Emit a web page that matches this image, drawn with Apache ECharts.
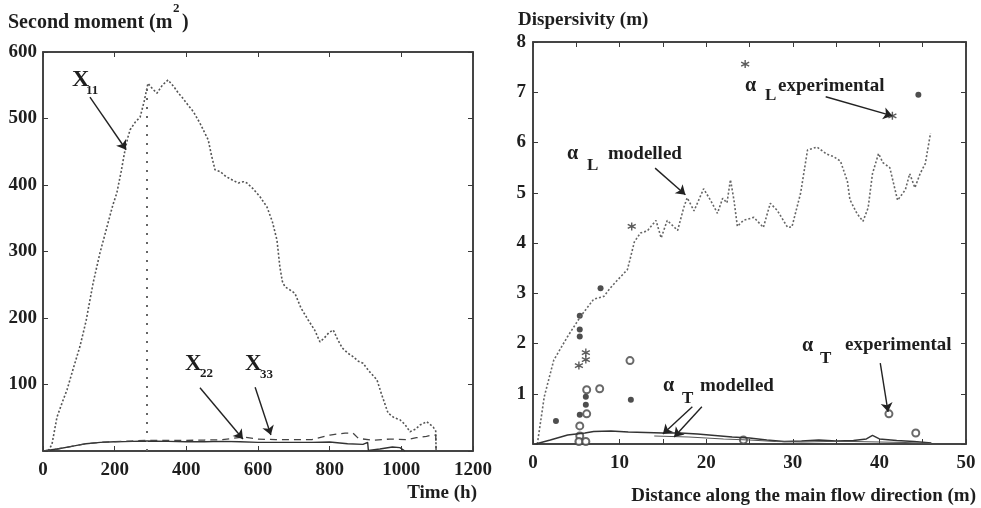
<!DOCTYPE html>
<html>
<head>
<meta charset="utf-8">
<script src="https://cdn.jsdelivr.net/npm/echarts@6/dist/echarts.min.js"></script>
<style>
  html, body { margin: 0; padding: 0; background: #fff; }
  #chart { width: 981px; height: 508px; }
</style>
</head>
<body>
<div id="chart"></div>
<script>
// left panel: second moments vs time
const x11Time = [15, 25, 39, 55, 67, 85, 103, 120, 140, 159, 180, 195, 206, 218, 229, 236, 243, 258, 271, 282, 293, 305, 318, 333, 349, 365, 378, 388, 405, 420, 438, 450, 461, 470, 480, 495, 510, 530, 545, 560, 569, 585, 606, 625, 640, 653, 661, 668, 675, 690, 703, 720, 740, 758, 773, 785, 798, 810, 822, 835, 851, 865, 880, 893, 910, 932, 945, 963, 980, 996, 1010, 1024, 1040, 1052, 1071, 1089, 1096, 1097]
const x11Val  = [0, 10, 51, 75, 92, 125, 157, 195, 253, 298, 340, 370, 388, 420, 453, 470, 483, 495, 502, 525, 553, 545, 538, 550, 558, 548, 538, 532, 520, 510, 493, 480, 468, 445, 423, 420, 413, 407, 403, 405, 403, 395, 382, 367, 345, 317, 277, 255, 247, 242, 237, 215, 197, 182, 164, 170, 178, 182, 168, 155, 147, 142, 135, 132, 120, 107, 85, 57, 50, 47, 40, 29, 33, 39, 44, 36, 30, 0]

const x22Time = [0, 40, 80, 120, 160, 200, 250, 290, 350, 400, 450, 500, 550, 600, 650, 700, 750, 800, 850, 893, 906, 908, 940, 975, 996, 1010]
const x22Val  = [0, 3, 7, 11, 13, 14, 14.5, 15, 14.5, 14, 14, 14.5, 14, 13, 13, 13, 13, 13.5, 11, 10, 13, 1, 3, 6, 5, 0]

const x33Time = [0, 40, 80, 120, 160, 200, 290, 350, 400, 450, 500, 558, 600, 650, 700, 750, 801, 843, 865, 880, 921, 968, 1014, 1042, 1070, 1088, 1096, 1097]
const x33Val  = [0, 3, 7, 11, 13, 14, 16, 16, 16, 16.5, 17, 21, 18, 17, 17, 17, 24, 27, 27, 19, 16, 18, 17, 20, 22, 24, 24, 0]

const peakTime = 290
const peakVal = 553

// right panel: dispersivity vs distance
const aLDist = [0.5, 1.3, 2.4, 4.0, 5.5, 7.0, 8.2, 8.9, 9.8, 10.9, 11.3, 11.7, 12.4, 13.2, 14.2, 14.8, 15.5, 16.7, 17.4, 17.8, 18.6, 19.7, 20.5, 21.3, 21.9, 22.4, 22.8, 23.2, 23.6, 24.3, 25.5, 26.6, 27.4, 28.2, 29.4, 29.9, 30.9, 31.7, 32.8, 33.9, 34.7, 35.5, 36.3, 36.6, 37.4, 38.1, 38.7, 39.2, 39.9, 40.4, 41.2, 42.1, 43.0, 43.5, 44.1, 44.7, 45.3, 45.9]
const aLMod  = [0, 0.94, 1.67, 2.14, 2.54, 2.88, 2.94, 3.1, 3.27, 3.47, 3.74, 4.02, 4.2, 4.24, 4.45, 4.1, 4.45, 4.25, 4.7, 4.9, 4.64, 5.08, 4.85, 4.59, 4.89, 4.8, 5.26, 4.86, 4.33, 4.45, 4.51, 4.31, 4.79, 4.65, 4.31, 4.32, 4.99, 5.85, 5.91, 5.77, 5.72, 5.63, 5.23, 4.86, 4.59, 4.43, 4.7, 5.38, 5.78, 5.6, 5.5, 4.85, 5.06, 5.38, 5.1, 5.38, 5.58, 6.18]

const aTDist = [0.3, 2, 4, 6, 7, 9, 11, 13, 15, 17, 19, 21, 23, 25, 27, 29, 31, 33, 35, 37, 38.5, 39.2, 40, 42, 44, 46]
const aTMod  = [0, 0.08, 0.18, 0.22, 0.25, 0.26, 0.24, 0.23, 0.22, 0.22, 0.2, 0.17, 0.14, 0.12, 0.08, 0.05, 0.06, 0.08, 0.06, 0.07, 0.1, 0.17, 0.1, 0.07, 0.05, 0.02]
const aT2Dist = [14, 16, 18, 20, 22, 25, 28, 31, 34, 37, 40, 43, 46]
const aT2Mod  = [0.16, 0.15, 0.14, 0.12, 0.1, 0.08, 0.05, 0.04, 0.05, 0.05, 0.04, 0.03, 0.01]

const aLDotX = [2.65, 5.4, 5.4, 5.4, 7.8, 6.1, 6.1, 5.4, 11.3, 44.5]
const aLDotY = [0.46, 2.55, 2.28, 2.14, 3.1, 0.94, 0.78, 0.58, 0.88, 6.95]
const aLStarX = [5.3, 6.1, 6.1, 11.4, 24.5, 41.5]
const aLStarY = [1.56, 1.82, 1.68, 4.33, 7.56, 6.53]
const aTCircX = [6.2, 6.2, 5.4, 5.4, 5.3, 6.1, 7.7, 11.2, 24.3, 41.1, 44.2]
const aTCircY = [1.08, 0.6, 0.36, 0.16, 0.05, 0.05, 1.1, 1.66, 0.08, 0.6, 0.22]

// annotation arrows, [from, to] in data units
const leftArrows = [
  [[131, 532], [232, 453]],
  [[438, 95], [558, 18]],
  [[592, 96], [636, 24]]
]
const rightArrows = [
  [[33.8, 6.91], [41.5, 6.53]],
  [[14.1, 5.49], [17.6, 4.96]],
  [[18.4, 0.74], [15.0, 0.2]],
  [[19.5, 0.74], [16.3, 0.14]],
  [[40.1, 1.61], [41.0, 0.64]]
]

const zip = (xs, ys) => xs.map((x, i) => [x, ys[i]])

const FONT = "Liberation Serif"
const INK = "#1e1e1e"
const FRAME = "#3a3a3a"

function frameAxis(extra) {
  return Object.assign({
    type: "value",
    axisLine: { show: true, onZero: false, lineStyle: { color: FRAME, width: 1.5 } },
    axisTick: { show: true, inside: true, length: 5, lineStyle: { color: FRAME, width: 1 } },
    axisLabel: { show: false },
    splitLine: { show: false }
  }, extra)
}

const tickLabel = { show: true, color: INK, fontFamily: FONT, fontWeight: "bold", fontSize: 19 }

function arrowLines(list) {
  return list.map((a) => [{ coord: a[0] }, { coord: a[1] }])
}

function txt(x, y, text, size, align) {
  return {
    type: "text", x: x, y: y, silent: true,
    style: {
      text: text, fill: INK, align: align || "left", verticalAlign: "middle",
      font: "bold " + size + "px '" + FONT + "'"
    }
  }
}

const asterisk = "path://M5,0L5,10M0.7,2.5L9.3,7.5M0.7,7.5L9.3,2.5"

const chart = echarts.init(document.getElementById("chart"), null, { renderer: "canvas" })

chart.setOption({
  animation: false,
  backgroundColor: "#fff",
  grid: [
    { left: 43, top: 52, width: 430, height: 399, show: true, borderColor: FRAME, borderWidth: 1.5 },
    { left: 533, top: 42, width: 433, height: 402, show: true, borderColor: FRAME, borderWidth: 1.5 }
  ],
  xAxis: [
    frameAxis({ gridIndex: 0, min: 0, max: 1200, interval: 200,
      axisLabel: Object.assign({}, tickLabel, { margin: 10, formatter: (v) => String(v) }) }),
    frameAxis({ gridIndex: 0, position: "top", min: 0, max: 1200, interval: 200 }),
    frameAxis({ gridIndex: 1, min: 0, max: 50, interval: 5,
      axisLabel: Object.assign({}, tickLabel, { margin: 10, formatter: (v) => (v % 10 === 0 ? String(v) : "") }) }),
    frameAxis({ gridIndex: 1, position: "top", min: 0, max: 50, interval: 5 })
  ],
  yAxis: [
    frameAxis({ gridIndex: 0, min: 0, max: 600, interval: 100,
      axisLabel: Object.assign({}, tickLabel, { margin: 6, formatter: (v) => (v === 0 ? "" : String(v)) }) }),
    frameAxis({ gridIndex: 0, position: "right", min: 0, max: 600, interval: 100 }),
    frameAxis({ gridIndex: 1, min: 0, max: 8, interval: 1,
      axisLabel: Object.assign({}, tickLabel, { margin: 7, formatter: (v) => (v === 0 ? "" : String(v)) }) }),
    frameAxis({ gridIndex: 1, position: "right", min: 0, max: 8, interval: 1 })
  ],
  series: [
    {
      name: "X11", type: "line", xAxisIndex: 0, yAxisIndex: 0,
      data: zip(x11Time, x11Val), showSymbol: false, silent: true,
      lineStyle: { color: "#555", width: 1.6, type: [2, 2] },
      markLine: {
        silent: true, symbol: "none", animation: false,
        label: { show: false },
        lineStyle: { color: "#666", width: 2, type: [2, 7] },
        data: [[{ coord: [peakTime, 0] }, { coord: [peakTime, peakVal] }]]
      }
    },
    {
      name: "X22", type: "line", xAxisIndex: 0, yAxisIndex: 0,
      data: zip(x22Time, x22Val), showSymbol: false, silent: true,
      lineStyle: { color: "#333", width: 1.4 },
      markLine: {
        silent: true, symbol: ["none", "arrow"], symbolSize: 9, animation: false,
        label: { show: false },
        lineStyle: { color: "#222", width: 1.4, type: "solid" },
        data: arrowLines(leftArrows)
      }
    },
    {
      name: "X33", type: "line", xAxisIndex: 0, yAxisIndex: 0,
      data: zip(x33Time, x33Val), showSymbol: false, silent: true,
      lineStyle: { color: "#444", width: 1.3, type: [7, 5] }
    },
    {
      name: "aL modelled", type: "line", xAxisIndex: 2, yAxisIndex: 2,
      data: zip(aLDist, aLMod), showSymbol: false, silent: true,
      lineStyle: { color: "#666", width: 1.6, type: [2, 2] },
      markLine: {
        silent: true, symbol: ["none", "arrow"], symbolSize: 9, animation: false,
        label: { show: false },
        lineStyle: { color: "#222", width: 1.4, type: "solid" },
        data: arrowLines(rightArrows)
      }
    },
    {
      name: "aT modelled", type: "line", xAxisIndex: 2, yAxisIndex: 2,
      data: zip(aTDist, aTMod), showSymbol: false, silent: true,
      lineStyle: { color: "#333", width: 1.4 }
    },
    {
      name: "aT modelled 2", type: "line", xAxisIndex: 2, yAxisIndex: 2,
      data: zip(aT2Dist, aT2Mod), showSymbol: false, silent: true,
      lineStyle: { color: "#555", width: 1.1 }
    },
    {
      name: "aL experimental", type: "scatter", xAxisIndex: 2, yAxisIndex: 2,
      data: zip(aLDotX, aLDotY), symbol: "circle", symbolSize: 6, silent: true,
      itemStyle: { color: "#222" }
    },
    {
      name: "aL experimental *", type: "scatter", xAxisIndex: 2, yAxisIndex: 2,
      data: zip(aLStarX, aLStarY), symbol: asterisk, symbolSize: 8, silent: true,
      itemStyle: { color: "#333", borderColor: "#333", borderWidth: 1.4 }
    },
    {
      name: "aT experimental", type: "scatter", xAxisIndex: 2, yAxisIndex: 2,
      data: zip(aTCircX, aTCircY), symbol: "emptyCircle", symbolSize: 7, silent: true,
      clip: false,
      itemStyle: { color: "#444", borderColor: "#444", borderWidth: 1.2 }
    }
  ],
  graphic: [
    // left panel texts
    txt(8, 23, "Second moment (m", 20),
    txt(173, 9, "2", 13),
    txt(182, 23, ")", 20),
    txt(72, 80, "X", 24),
    txt(86, 91, "11", 13),
    txt(185, 364, "X", 23),
    txt(200, 374, "22", 13),
    txt(245, 364, "X", 23),
    txt(260, 375, "33", 13),
    txt(477, 493, "Time (h)", 19, "right"),
    // right panel texts
    txt(518, 20, "Dispersivity (m)", 19),
    txt(745, 86, "\u03b1", 20),
    txt(765, 96, "L", 17),
    txt(778, 86, "experimental", 19),
    txt(567, 154, "\u03b1", 20),
    txt(587, 166, "L", 17),
    txt(608, 154, "modelled", 19),
    txt(663, 386, "\u03b1", 20),
    txt(682, 399, "T", 17),
    txt(700, 386, "modelled", 19),
    txt(802, 346, "\u03b1", 20),
    txt(820, 359, "T", 17),
    txt(845, 345, "experimental", 19),
    txt(976, 496, "Distance along the main flow direction (m)", 19, "right")
  ]
})
</script>
</body>
</html>
